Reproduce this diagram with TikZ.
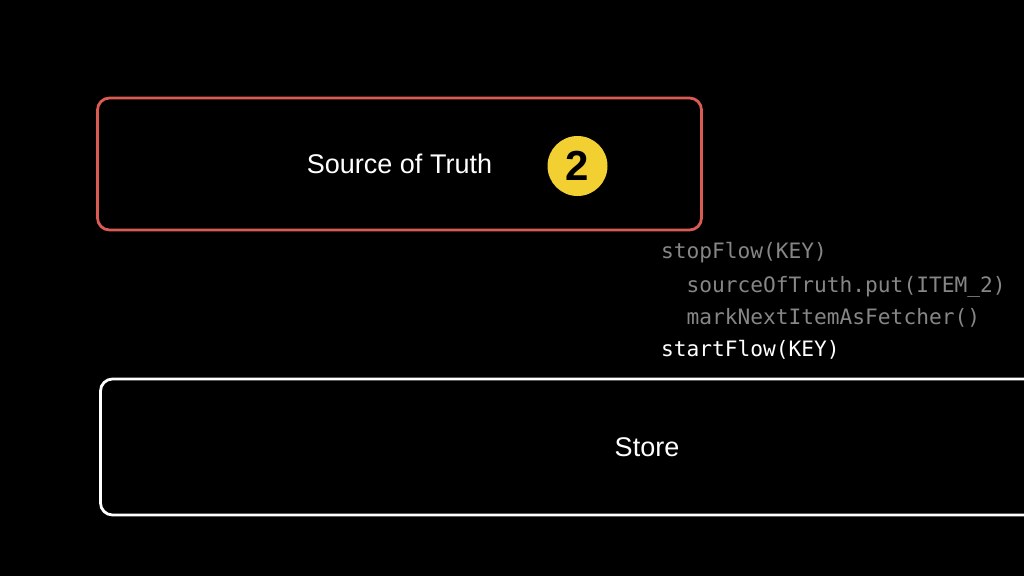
\documentclass[tikz,border=0pt]{standalone}
\usepackage{fontspec}
\setmainfont{Liberation Sans}
\setmonofont{DejaVu Sans Mono}
\usetikzlibrary{positioning}

\definecolor{truthred}{HTML}{D95B52}
\definecolor{badgeyellow}{HTML}{F2D031}
\definecolor{codegray}{HTML}{868686}

\begin{document}
\begin{tikzpicture}[x=1pt, y=-1pt,
    every node/.style={inner sep=0pt, outer sep=0pt},
    box/.style={draw, rounded corners=12pt, line width=2.8pt, text=white,
        font=\fontsize{27}{32}\selectfont},
    code/.style={anchor=base west, text=codegray,
        font=\ttfamily\fontsize{21.2}{24}\selectfont}]

    % Canvas
    \fill[black] (0,0) rectangle (1024,576);
    \clip (0,0) rectangle (1024,576);

    % =====================================================
    % Source of Truth
    % =====================================================
    \node[box, draw=truthred, minimum width=604pt, minimum height=132pt] (truth) at (399.5,164) {Source of Truth};

    \node[circle, fill=badgeyellow, minimum size=60pt, text=black,
        font=\bfseries\fontsize{42}{44}\selectfont] (badge) at (577.5,166) {2};

    % =====================================================
    % Calls
    % =====================================================
    \node[code] (stopflow)  at (661,258) {stopFlow(KEY)};
    \node[code] (putitem)   at (661,292) {\ \ sourceOfTruth.put(ITEM\_2)};
    \node[code] (marknext)  at (661,324) {\ \ markNextItemAsFetcher()};
    \node[code, text=white] (startflow) at (661,356) {startFlow(KEY)};

    % =====================================================
    % Store
    % =====================================================
    \node[box, draw=white, minimum width=1093pt, minimum height=136pt] (store) at (647,447) {Store};

\end{tikzpicture}
\end{document}
